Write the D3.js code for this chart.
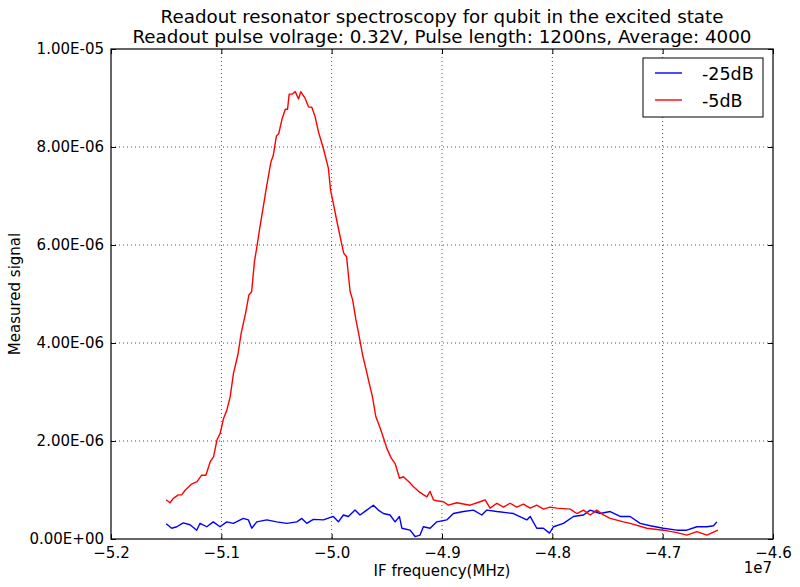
<!DOCTYPE html>
<html>
<head>
<meta charset="utf-8">
<script src="https://cdn.jsdelivr.net/npm/d3@7"></script>
<style>
  html, body { margin: 0; padding: 0; background: #fff; }
  svg { display: block; font-family: "DejaVu Sans", sans-serif; }
</style>
</head>
<body>
<svg id="chart" width="800" height="587"></svg>
<script>
// Frequencies in units of 1e7 Hz, signal in units of 1e-6
const redFreq = [-5.150,-5.1465,-5.1435,-5.139,-5.136,-5.133,-5.127,-5.122,-5.118,-5.114,-5.110,-5.107,-5.104,-5.101,-5.098,-5.095,-5.092,-5.089,-5.085,-5.082,-5.078,-5.075,-5.0725,-5.070,-5.068,-5.065,-5.062,-5.059,-5.055,-5.053,-5.050,-5.048,-5.045,-5.042,-5.040,-5.0385,-5.0355,-5.033,-5.030,-5.028,-5.024,-5.021,-5.018,-5.015,-5.012,-5.0075,-5.003,-5.001,-4.9985,-4.9955,-4.991,-4.989,-4.9865,-4.9833,-4.981,-4.978,-4.975,-4.972,-4.968,-4.966,-4.963,-4.960,-4.956,-4.953,-4.950,-4.946,-4.9425,-4.9385,-4.935,-4.930,-4.926,-4.920,-4.9138,-4.9108,-4.9078,-4.9047,-4.8987,-4.8942,-4.8866,-4.8745,-4.8655,-4.8609,-4.8564,-4.8503,-4.8443,-4.8383,-4.8322,-4.8262,-4.8201,-4.8141,-4.8081,-4.8020,-4.7960,-4.7839,-4.7778,-4.7718,-4.7657,-4.7597,-4.7537,-4.7476,-4.7355,-4.7295,-4.7143,-4.6993,-4.6871,-4.6781,-4.6690,-4.6599,-4.650];
const redSignal = [0.80,0.74,0.83,0.90,0.90,0.99,1.12,1.17,1.30,1.30,1.58,1.68,2.02,2.16,2.46,2.63,2.90,3.38,3.76,4.20,4.61,4.98,5.05,5.66,5.93,6.37,6.78,7.19,7.70,7.82,8.23,8.27,8.57,8.77,8.77,9.08,9.08,9.13,8.98,9.13,8.99,8.82,8.81,8.62,8.31,7.97,7.57,7.12,6.85,6.51,6.03,5.83,5.76,5.05,4.88,4.47,4.13,3.76,3.38,3.18,2.90,2.50,2.26,2.06,1.85,1.65,1.54,1.24,1.27,1.17,1.07,0.95,0.86,0.97,0.80,0.78,0.76,0.69,0.74,0.69,0.76,0.80,0.63,0.73,0.65,0.73,0.65,0.71,0.63,0.69,0.61,0.65,0.63,0.61,0.52,0.59,0.49,0.59,0.49,0.42,0.35,0.32,0.22,0.18,0.13,0.08,0.15,0.08,0.18];

const blueFreq = [-5.150,-5.145,-5.1404,-5.1345,-5.1284,-5.1223,-5.1193,-5.1132,-5.1073,-5.1012,-5.0951,-5.0891,-5.0801,-5.0755,-5.0724,-5.0679,-5.0588,-5.0498,-5.0407,-5.0316,-5.0271,-5.0226,-5.0166,-5.0075,-4.9985,-4.9939,-4.9894,-4.9849,-4.9788,-4.9743,-4.9682,-4.9622,-4.9577,-4.9531,-4.9471,-4.9425,-4.9386,-4.9364,-4.9289,-4.9244,-4.9199,-4.9169,-4.9108,-4.9047,-4.8957,-4.8897,-4.8806,-4.8715,-4.8639,-4.8594,-4.8503,-4.8353,-4.8231,-4.8201,-4.8141,-4.8081,-4.8026,-4.7990,-4.7899,-4.7809,-4.7718,-4.7657,-4.7567,-4.7476,-4.7385,-4.7295,-4.7204,-4.7113,-4.6993,-4.6871,-4.6781,-4.6690,-4.6599,-4.6539,-4.6509];
const blueSignal = [0.31,0.22,0.25,0.33,0.29,0.18,0.32,0.25,0.35,0.25,0.35,0.32,0.42,0.39,0.22,0.35,0.39,0.35,0.32,0.35,0.42,0.32,0.40,0.39,0.46,0.35,0.49,0.46,0.59,0.49,0.59,0.69,0.59,0.52,0.49,0.35,0.46,0.22,0.18,0.05,0.08,0.25,0.22,0.35,0.39,0.52,0.56,0.59,0.49,0.59,0.56,0.52,0.39,0.46,0.22,0.22,0.12,0.25,0.32,0.46,0.49,0.59,0.52,0.56,0.46,0.46,0.32,0.27,0.22,0.18,0.18,0.25,0.25,0.27,0.35];

const xTicks = [-5.2,-5.1,-5.0,-4.9,-4.8,-4.7,-4.6];
const yTicks = [0,2,4,6,8,10];
const yTickLabels = ["0.00E+00","2.00E-06","4.00E-06","6.00E-06","8.00E-06","1.00E-05"];
const seriesNames = ["-25dB","-5dB"];
const seriesColors = ["#0000ff","#ff0000"];

const titleLines = ["Readout resonator spectroscopy for qubit in the excited state",
                    "Readout pulse volrage: 0.32V, Pulse length: 1200ns, Average: 4000"];

const svg = d3.select("#chart");
const m = {left: 111, right: 773, top: 49, bottom: 539};
const x = d3.scaleLinear().domain([-5.2, -4.6]).range([m.left, m.right]);
const y = d3.scaleLinear().domain([0, 10]).range([m.bottom, m.top]);

// grid
const grid = svg.append("g");
grid.selectAll(".gx").data(xTicks.slice(1, -1)).join("line")
  .attr("x1", d => x(d)).attr("x2", d => x(d))
  .attr("y1", m.top).attr("y2", m.bottom)
  .attr("stroke", "#000").attr("stroke-width", 0.7).attr("stroke-dasharray", "1,3");
grid.selectAll(".gy").data(yTicks.slice(1, -1)).join("line")
  .attr("x1", m.left).attr("x2", m.right)
  .attr("y1", d => y(d)).attr("y2", d => y(d))
  .attr("stroke", "#000").attr("stroke-width", 0.7).attr("stroke-dasharray", "1,3");

// lines
const line = d3.line().x(d => x(d[0])).y(d => y(d[1]));
const series = [
  {name: seriesNames[0], color: seriesColors[0], pts: d3.zip(blueFreq, blueSignal)},
  {name: seriesNames[1], color: seriesColors[1], pts: d3.zip(redFreq, redSignal)}
];
svg.append("g").selectAll("path").data(series).join("path")
  .attr("d", d => line(d.pts))
  .attr("fill", "none").attr("stroke", d => d.color).attr("stroke-width", 1.4)
  .attr("stroke-linejoin", "round");

// axes (inward ticks on all sides)
const ax = svg.append("g");
ax.append("g").attr("transform", `translate(0,${m.bottom})`)
  .call(d3.axisBottom(x).tickValues(xTicks).tickSize(-5).tickPadding(8)
    .tickFormat(d => d3.format(".1f")(d).replace("-", "\u2212")));
ax.append("g").attr("transform", `translate(0,${m.top})`)
  .call(d3.axisTop(x).tickValues(xTicks).tickSize(-5).tickFormat(""));
ax.append("g").attr("transform", `translate(${m.left},0)`)
  .call(d3.axisLeft(y).tickValues(yTicks).tickSize(-5).tickPadding(7)
    .tickFormat((d, i) => yTickLabels[i]));
ax.append("g").attr("transform", `translate(${m.right},0)`)
  .call(d3.axisRight(y).tickValues(yTicks).tickSize(-5).tickFormat(""));
ax.selectAll(".domain").remove();
ax.selectAll(".tick line").attr("stroke", "#000").attr("stroke-width", 1);
ax.selectAll(".tick text").attr("font-size", 15).attr("fill", "#000")
  .attr("font-family", "DejaVu Sans, sans-serif");
svg.append("rect").attr("x", m.left).attr("y", m.top)
  .attr("width", m.right - m.left).attr("height", m.bottom - m.top)
  .attr("fill", "none").attr("stroke", "#000").attr("stroke-width", 1.2);

// titles
svg.append("g").selectAll("text").data(titleLines).join("text")
  .attr("x", (m.left + m.right) / 2).attr("y", (d, i) => 23 + i * 19.5)
  .attr("text-anchor", "middle").attr("font-size", 18.3).text(d => d);
svg.append("text").attr("x", (m.left + m.right) / 2).attr("y", 576)
  .attr("text-anchor", "middle").attr("font-size", 15).text("IF frequency(MHz)");
svg.append("text").attr("transform", `translate(20,${(m.top + m.bottom) / 2}) rotate(-90)`)
  .attr("text-anchor", "middle").attr("font-size", 15).text("Measured signal");
svg.append("text").attr("x", m.right - 1).attr("y", 573)
  .attr("text-anchor", "end").attr("font-size", 15).text("1e7");

// legend
const lg = svg.append("g").attr("transform", "translate(643,58)");
lg.append("rect").attr("width", 120).attr("height", 59)
  .attr("fill", "#fff").attr("stroke", "#000").attr("stroke-width", 1);
const items = lg.selectAll("g").data(series).join("g")
  .attr("transform", (d, i) => `translate(0,${15 + i * 27})`);
items.append("line").attr("x1", 12).attr("x2", 39).attr("y1", 0).attr("y2", 0)
  .attr("stroke", d => d.color).attr("stroke-width", 1.4);
items.append("text").attr("x", 59).attr("y", 6.5).attr("font-size", 17.5).text(d => d.name);
</script>
</body>
</html>
